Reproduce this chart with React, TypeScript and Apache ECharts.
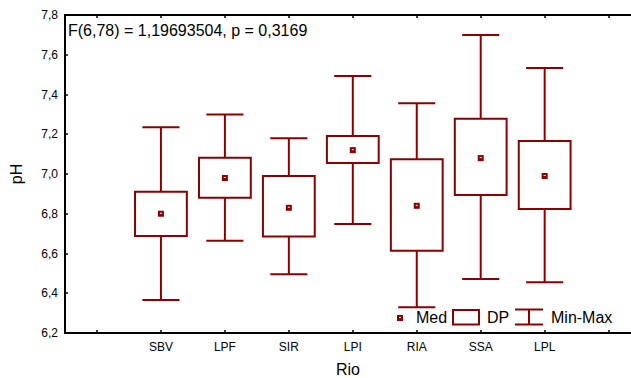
import React, { useEffect, useRef } from "react";
import * as echarts from "echarts";

const categories = ["SBV", "LPF", "SIR", "LPI", "RIA", "SSA", "LPL"];
const positions = [1, 2, 3, 4, 5, 6, 7];
const means = [6.80, 6.98, 6.83, 7.12, 6.84, 7.08, 6.99];
const sdLow = [6.688, 6.881, 6.685, 7.055, 6.614, 6.894, 6.824];
const sdHigh = [6.911, 7.082, 6.99, 7.191, 7.074, 7.278, 7.166];
const mins = [6.366, 6.664, 6.495, 6.748, 6.329, 6.472, 6.455];
const maxs = [7.235, 7.30, 7.18, 7.493, 7.356, 7.699, 7.533];
const xTicks = [0, 1, 2, 3, 4, 5, 6, 7, 8];
const annotation = "F(6,78) = 1,19693504, p = 0,3169";

const RED = "#8B0000";
const FONT = "Liberation Sans, Arial, sans-serif";

export default function App() {
  const ref = useRef<HTMLDivElement>(null);
  useEffect(() => {
    if (!ref.current) return;
    const chart = echarts.init(ref.current, null, { renderer: "svg" });
    const data = positions.map((p, i) => [p, mins[i], sdLow[i], means[i], sdHigh[i], maxs[i]]);
    const axisLine = { show: true, onZero: false, lineStyle: { color: "#000", width: 2 } };
    chart.setOption({
      animation: false,
      grid: { left: 65, right: 0, top: 15, bottom: 45, containLabel: false, outerBoundsMode: "none" },
      xAxis: [
        {
          type: "value",
          min: -0.5,
          max: 8.35,
          position: "bottom",
          name: "Rio",
          nameLocation: "middle",
          nameGap: 28,
          nameTextStyle: { fontFamily: FONT, fontSize: 16, color: "#000" },
          axisLine,
          axisTick: { show: true, inside: true, length: 3, customValues: xTicks, lineStyle: { color: "#000", width: 1.5 } },
          axisLabel: {
            customValues: positions,
            formatter: (v: number) => categories[Math.round(v) - 1] ?? "",
            fontFamily: FONT,
            fontSize: 12,
            color: "#000",
            margin: 8,
          },
          splitLine: { show: false },
        },
        {
          type: "value",
          min: -0.5,
          max: 8.35,
          position: "top",
          axisLine,
          axisTick: { show: true, inside: true, length: 3, customValues: xTicks, lineStyle: { color: "#000", width: 1.5 } },
          axisLabel: { show: false },
          splitLine: { show: false },
        },
      ],
      yAxis: {
        type: "value",
        min: 6.2,
        max: 7.8,
        interval: 0.2,
        position: "left",
        name: "pH",
        nameLocation: "middle",
        nameGap: 41,
        nameTextStyle: { fontFamily: FONT, fontSize: 16, color: "#000" },
        axisLine,
        axisTick: { show: true, inside: true, length: 3, lineStyle: { color: "#000", width: 1.5 } },
        axisLabel: {
          formatter: (v: number) => v.toFixed(1).replace(".", ","),
          fontFamily: FONT,
          fontSize: 12,
          color: "#000",
          margin: 7,
        },
        splitLine: { show: false },
      },
      series: [
        {
          type: "custom",
          xAxisIndex: 0,
          yAxisIndex: 0,
          data,
          encode: { x: 0, y: [1, 2, 3, 4, 5] },
          renderItem: (params: any, api: any) => {
            const x = api.value(0);
            const pMin = api.coord([x, api.value(1)]);
            const pLo = api.coord([x, api.value(2)]);
            const pMean = api.coord([x, api.value(3)]);
            const pHi = api.coord([x, api.value(4)]);
            const pMax = api.coord([x, api.value(5)]);
            const unit = api.size([1, 0])[0];
            const bw = unit * 0.81;
            const cw = unit * 0.58;
            const cx = pMean[0];
            const ls = { stroke: RED, lineWidth: 2, fill: "none" };
            return {
              type: "group",
              children: [
                { type: "line", shape: { x1: cx, y1: pMax[1], x2: cx, y2: pHi[1] }, style: ls },
                { type: "line", shape: { x1: cx, y1: pLo[1], x2: cx, y2: pMin[1] }, style: ls },
                { type: "line", shape: { x1: cx - cw / 2, y1: pMax[1], x2: cx + cw / 2, y2: pMax[1] }, style: ls },
                { type: "line", shape: { x1: cx - cw / 2, y1: pMin[1], x2: cx + cw / 2, y2: pMin[1] }, style: ls },
                { type: "rect", shape: { x: cx - bw / 2, y: pHi[1], width: bw, height: pLo[1] - pHi[1] }, style: { stroke: RED, lineWidth: 2, fill: "#fff" } },
                { type: "rect", shape: { x: cx - 3, y: pMean[1] - 3, width: 6, height: 6 }, style: { fill: RED } },
                { type: "line", shape: { x1: cx - 1, y1: pMean[1] - 0.5, x2: cx + 1, y2: pMean[1] - 0.5 }, style: { stroke: "#fff", lineWidth: 1 } },
              ],
            };
          },
          z: 2,
        },
      ],
      graphic: [
        { type: "text", x: 68, y: 30, style: { text: annotation, font: `16px ${FONT}`, fill: "#000", textVerticalAlign: "middle" } },
        { type: "rect", shape: { x: 397, y: 315, width: 6, height: 6 }, style: { fill: RED } },
        { type: "line", shape: { x1: 399, y1: 317.5, x2: 401, y2: 317.5 }, style: { stroke: "#fff", lineWidth: 1 } },
        { type: "text", x: 416, y: 317, style: { text: "Med", font: `16px ${FONT}`, fill: "#000", textVerticalAlign: "middle" } },
        { type: "rect", shape: { x: 453, y: 310, width: 26, height: 14.5 }, style: { stroke: RED, lineWidth: 2, fill: "#fff" } },
        { type: "text", x: 487, y: 317, style: { text: "DP", font: `16px ${FONT}`, fill: "#000", textVerticalAlign: "middle" } },
        { type: "line", shape: { x1: 515, y1: 309.5, x2: 543, y2: 309.5 }, style: { stroke: RED, lineWidth: 2 } },
        { type: "line", shape: { x1: 529, y1: 309.5, x2: 529, y2: 324.5 }, style: { stroke: RED, lineWidth: 2 } },
        { type: "line", shape: { x1: 515, y1: 324.5, x2: 543, y2: 324.5 }, style: { stroke: RED, lineWidth: 2 } },
        { type: "text", x: 551, y: 317, style: { text: "Min-Max", font: `16px ${FONT}`, fill: "#000", textVerticalAlign: "middle" } },
      ],
    });
    return () => chart.dispose();
  }, []);
  return <div ref={ref} style={{ width: 631, height: 378, position: "absolute", left: 0, top: 0 }} />;
}
